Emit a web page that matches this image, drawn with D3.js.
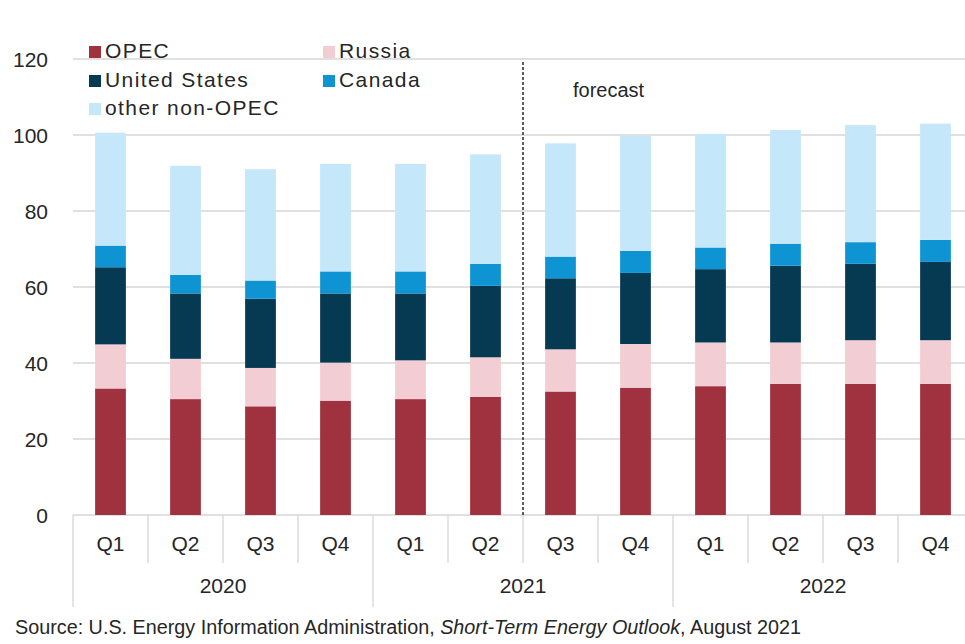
<!DOCTYPE html>
<html>
<head>
<meta charset="utf-8">
<script src="https://cdn.jsdelivr.net/npm/d3@7"></script>
<style>
  html, body { margin: 0; padding: 0; background: #fff; }
  svg { display: block; font-family: Arial, "Liberation Sans", sans-serif; }
</style>
</head>
<body>
<svg id="chart" width="965" height="644"></svg>
<script>
// ---- data ----
const quarters = ["Q1","Q2","Q3","Q4","Q1","Q2","Q3","Q4","Q1","Q2","Q3","Q4"];
const years = ["2020","2021","2022"];
const seriesNames = ["OPEC","Russia","United States","Canada","other non-OPEC"];
const opec      = [33.3, 30.5, 28.6, 30.1, 30.5, 31.1, 32.5, 33.5, 33.9, 34.5, 34.5, 34.5];
const russia    = [11.6, 10.6, 10.1, 10.0, 10.2, 10.4, 11.1, 11.5, 11.5, 10.9, 11.5, 11.5];
const unitedStates = [20.3, 17.2, 18.2, 18.2, 17.6, 18.8, 18.7, 18.7, 19.3, 20.2, 20.1, 20.6];
const canada    = [5.7, 4.9, 4.8, 5.8, 5.8, 5.8, 5.7, 5.8, 5.7, 5.8, 5.7, 5.8];
const otherNonOpec = [29.7, 28.7, 29.3, 28.3, 28.3, 28.8, 29.8, 30.3, 29.9, 29.9, 30.8, 30.6];
const yTicks = [0, 20, 40, 60, 80, 100, 120];
const forecastStartIndex = 6;
const sourceNote = ["Source: U.S. Energy Information Administration, ", "Short-Term Energy Outlook", ", August 2021"];

const colors = ["#a0323f", "#f2cdd3", "#063a53", "#0e94d3", "#c4e8f9"];
const seriesValues = [opec, russia, unitedStates, canada, otherNonOpec];

(function () {
// ---- layout ----
const svg = d3.select("#chart");
const mLeft = 73, mRight = 973, mTop = 59, mBottom = 515;
const textColor = "#262626";
const gridColor = "#d6d6d6";

const rows = quarters.map((q, i) => {
  const r = { idx: i };
  seriesNames.forEach((s, k) => r[s] = seriesValues[k][i]);
  return r;
});
const stacked = d3.stack().keys(seriesNames)(rows);

const x = d3.scaleBand().domain(d3.range(quarters.length)).range([mLeft, mRight])
  .paddingInner(0.59).paddingOuter(0.295);
const xCat = d3.scaleBand().domain(d3.range(quarters.length)).range([mLeft, mRight]).padding(0);
const y = d3.scaleLinear().domain([0, 120]).range([mBottom, mTop]);

// gridlines
svg.append("g").selectAll("line").data(yTicks).join("line")
  .attr("x1", mLeft).attr("x2", mRight)
  .attr("y1", d => y(d)).attr("y2", d => y(d))
  .attr("stroke", gridColor).attr("stroke-width", 1.3);

// y labels
svg.append("g").selectAll("text").data(yTicks).join("text")
  .attr("x", 48).attr("y", d => y(d)).attr("dy", "0.36em")
  .attr("text-anchor", "end").attr("font-size", 21).attr("fill", textColor)
  .text(d => d);

// bars
svg.append("g").selectAll("g").data(stacked).join("g")
  .attr("fill", (d, i) => colors[i])
  .selectAll("rect").data(d => d).join("rect")
  .attr("x", (d, i) => x(i))
  .attr("width", x.bandwidth())
  .attr("y", d => y(d[1]))
  .attr("height", d => y(d[0]) - y(d[1]));

// x axis separators
const boundaries = d3.range(quarters.length + 1);
svg.append("g").selectAll("line").data(boundaries).join("line")
  .attr("x1", d => mLeft + d * xCat.step()).attr("x2", d => mLeft + d * xCat.step())
  .attr("y1", mBottom)
  .attr("y2", d => (d % 4 === 0) ? 607 : 563)
  .attr("stroke", gridColor).attr("stroke-width", 1.3);

// quarter labels
svg.append("g").selectAll("text").data(quarters).join("text")
  .attr("x", (d, i) => xCat(i) + xCat.bandwidth() / 2)
  .attr("y", 543).attr("dy", "0.36em")
  .attr("text-anchor", "middle").attr("font-size", 21).attr("fill", textColor)
  .text(d => d);

// year labels
svg.append("g").selectAll("text").data(years).join("text")
  .attr("x", (d, i) => mLeft + (i * 4 + 2) * xCat.step())
  .attr("y", 585).attr("dy", "0.36em")
  .attr("text-anchor", "middle").attr("font-size", 21).attr("fill", textColor)
  .text(d => d);

// forecast divider
const fx = mLeft + forecastStartIndex * xCat.step();
svg.append("line")
  .attr("x1", fx).attr("x2", fx).attr("y1", 62).attr("y2", mBottom)
  .attr("stroke", "#1a1a1a").attr("stroke-width", 1.4).attr("stroke-dasharray", "3,2");
svg.append("text").attr("x", 573).attr("y", 97)
  .attr("font-size", 20).attr("fill", textColor).text("forecast");

// legend
const legendPos = [
  { x: 89, y: 58 }, { x: 323, y: 58 },
  { x: 89, y: 87 }, { x: 323, y: 87 },
  { x: 89, y: 115 }
];
const lg = svg.append("g").selectAll("g").data(seriesNames).join("g")
  .attr("transform", (d, i) => `translate(${legendPos[i].x},${legendPos[i].y})`);
lg.append("rect").attr("x", 0).attr("y", -12).attr("width", 12).attr("height", 12)
  .attr("fill", (d, i) => colors[i]);
lg.append("text").attr("x", 16).attr("y", 0)
  .attr("font-size", 21).attr("letter-spacing", 1.4).attr("fill", textColor)
  .text(d => d);

// source
const src = svg.append("text").attr("x", 15).attr("y", 634)
  .attr("font-size", 19.5).attr("fill", textColor)
  .attr("textLength", 786).attr("lengthAdjust", "spacingAndGlyphs");
src.append("tspan").text(sourceNote[0]);
src.append("tspan").attr("font-style", "italic").text(sourceNote[1]);
src.append("tspan").text(sourceNote[2]);
})();
</script>
</body>
</html>
